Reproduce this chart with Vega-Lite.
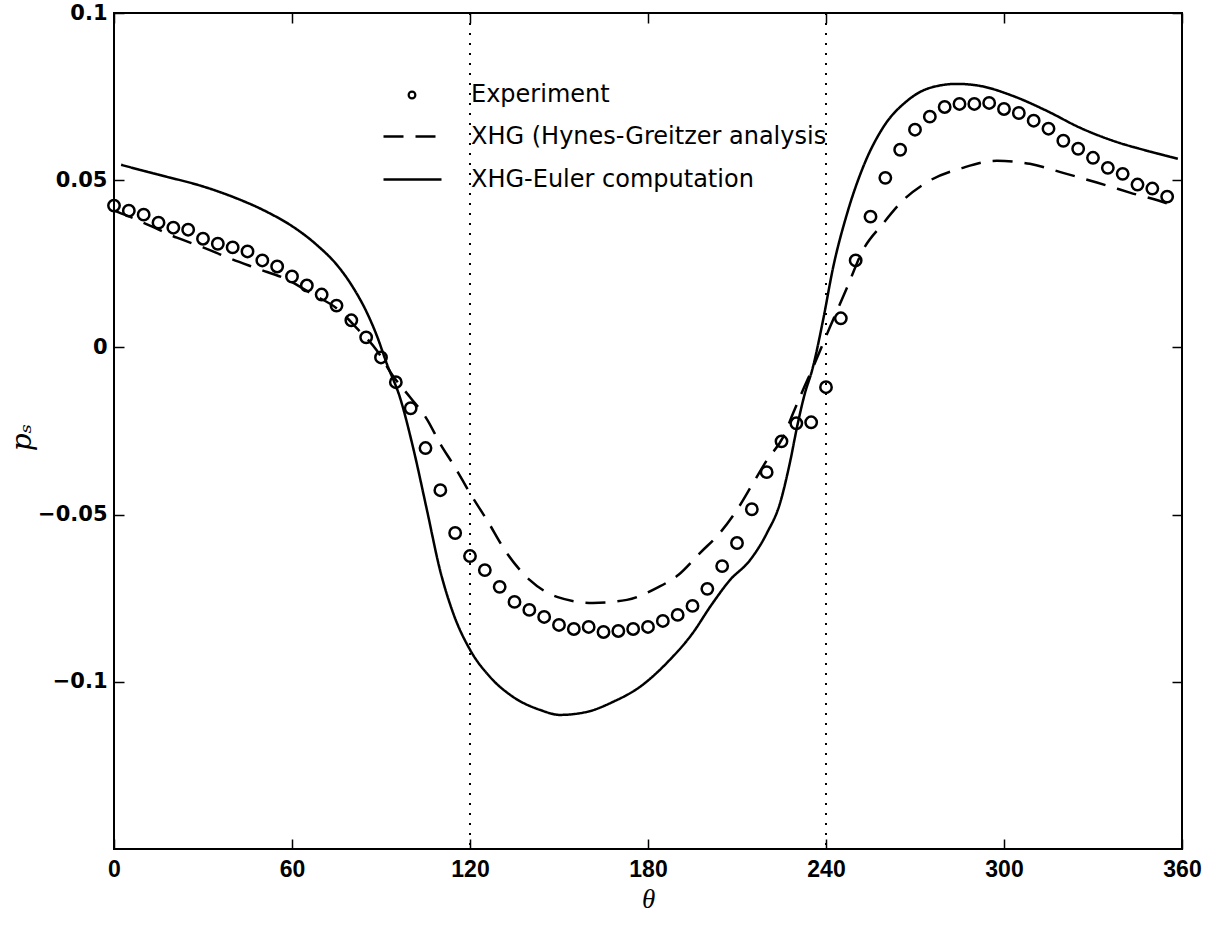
{
  "$schema": "https://vega.github.io/schema/vega-lite/v6.json",
  "width": 1068,
  "height": 836,
  "autosize": {"type": "none"},
  "padding": {"left": 114, "top": 13, "right": 29, "bottom": 78},
  "background": "white",
  "config": {
    "view": {"stroke": "black", "strokeWidth": 2},
    "axis": {
      "grid": false,
      "domain": false,
      "tickColor": "black",
      "tickWidth": 1.5,
      "tickSize": -10,
      "labelColor": "black",
      "titleColor": "black"
    },
    "legend": {
      "labelFont": "DejaVu Sans",
      "labelFontSize": 24,
      "labelColor": "black",
      "labelLimit": 0,
      "symbolStrokeColor": "black",
      "padding": 0
    }
  },
  "datasets": {
    "dividers": [{"theta": 120}, {"theta": 240}],
    "experiment": [
      {"series": "Experiment", "theta": 0, "ps": 0.0424},
      {"series": "Experiment", "theta": 5, "ps": 0.0409},
      {"series": "Experiment", "theta": 10, "ps": 0.0397},
      {"series": "Experiment", "theta": 15, "ps": 0.0373},
      {"series": "Experiment", "theta": 20, "ps": 0.0358},
      {"series": "Experiment", "theta": 25, "ps": 0.0352},
      {"series": "Experiment", "theta": 30, "ps": 0.0325},
      {"series": "Experiment", "theta": 35, "ps": 0.0310},
      {"series": "Experiment", "theta": 40, "ps": 0.0299},
      {"series": "Experiment", "theta": 45, "ps": 0.0287},
      {"series": "Experiment", "theta": 50, "ps": 0.0260},
      {"series": "Experiment", "theta": 55, "ps": 0.0242},
      {"series": "Experiment", "theta": 60, "ps": 0.0212},
      {"series": "Experiment", "theta": 65, "ps": 0.0185},
      {"series": "Experiment", "theta": 70, "ps": 0.0158},
      {"series": "Experiment", "theta": 75, "ps": 0.0125},
      {"series": "Experiment", "theta": 80, "ps": 0.0081},
      {"series": "Experiment", "theta": 85, "ps": 0.0030},
      {"series": "Experiment", "theta": 90, "ps": -0.0030},
      {"series": "Experiment", "theta": 95, "ps": -0.0104},
      {"series": "Experiment", "theta": 100, "ps": -0.0182},
      {"series": "Experiment", "theta": 105, "ps": -0.0301},
      {"series": "Experiment", "theta": 110, "ps": -0.0427},
      {"series": "Experiment", "theta": 115, "ps": -0.0555},
      {"series": "Experiment", "theta": 120, "ps": -0.0624},
      {"series": "Experiment", "theta": 125, "ps": -0.0666},
      {"series": "Experiment", "theta": 130, "ps": -0.0716},
      {"series": "Experiment", "theta": 135, "ps": -0.0761},
      {"series": "Experiment", "theta": 140, "ps": -0.0785},
      {"series": "Experiment", "theta": 145, "ps": -0.0806},
      {"series": "Experiment", "theta": 150, "ps": -0.0830},
      {"series": "Experiment", "theta": 155, "ps": -0.0842},
      {"series": "Experiment", "theta": 160, "ps": -0.0836},
      {"series": "Experiment", "theta": 165, "ps": -0.0851},
      {"series": "Experiment", "theta": 170, "ps": -0.0848},
      {"series": "Experiment", "theta": 175, "ps": -0.0842},
      {"series": "Experiment", "theta": 180, "ps": -0.0836},
      {"series": "Experiment", "theta": 185, "ps": -0.0818},
      {"series": "Experiment", "theta": 190, "ps": -0.0800},
      {"series": "Experiment", "theta": 195, "ps": -0.0773},
      {"series": "Experiment", "theta": 200, "ps": -0.0722},
      {"series": "Experiment", "theta": 205, "ps": -0.0654},
      {"series": "Experiment", "theta": 210, "ps": -0.0585},
      {"series": "Experiment", "theta": 215, "ps": -0.0484},
      {"series": "Experiment", "theta": 220, "ps": -0.0373},
      {"series": "Experiment", "theta": 225, "ps": -0.0281},
      {"series": "Experiment", "theta": 230, "ps": -0.0227},
      {"series": "Experiment", "theta": 235, "ps": -0.0224},
      {"series": "Experiment", "theta": 240, "ps": -0.0119},
      {"series": "Experiment", "theta": 245, "ps": 0.0087},
      {"series": "Experiment", "theta": 250, "ps": 0.0260},
      {"series": "Experiment", "theta": 255, "ps": 0.0391},
      {"series": "Experiment", "theta": 260, "ps": 0.0507},
      {"series": "Experiment", "theta": 265, "ps": 0.0591},
      {"series": "Experiment", "theta": 270, "ps": 0.0651},
      {"series": "Experiment", "theta": 275, "ps": 0.0690},
      {"series": "Experiment", "theta": 280, "ps": 0.0719},
      {"series": "Experiment", "theta": 285, "ps": 0.0728},
      {"series": "Experiment", "theta": 290, "ps": 0.0728},
      {"series": "Experiment", "theta": 295, "ps": 0.0731},
      {"series": "Experiment", "theta": 300, "ps": 0.0713},
      {"series": "Experiment", "theta": 305, "ps": 0.0701},
      {"series": "Experiment", "theta": 310, "ps": 0.0678},
      {"series": "Experiment", "theta": 315, "ps": 0.0654},
      {"series": "Experiment", "theta": 320, "ps": 0.0618},
      {"series": "Experiment", "theta": 325, "ps": 0.0594},
      {"series": "Experiment", "theta": 330, "ps": 0.0567},
      {"series": "Experiment", "theta": 335, "ps": 0.0537},
      {"series": "Experiment", "theta": 340, "ps": 0.0519},
      {"series": "Experiment", "theta": 345, "ps": 0.0487},
      {"series": "Experiment", "theta": 350, "ps": 0.0475},
      {"series": "Experiment", "theta": 355, "ps": 0.0451}
    ],
    "curves": [
      {"series": "XHG (Hynes-Greitzer analysis", "theta": 0, "ps": 0.0409},
      {"series": "XHG (Hynes-Greitzer analysis", "theta": 4.4, "ps": 0.0394},
      {"series": "XHG (Hynes-Greitzer analysis", "theta": 12.1, "ps": 0.0364},
      {"series": "XHG (Hynes-Greitzer analysis", "theta": 21.2, "ps": 0.0328},
      {"series": "XHG (Hynes-Greitzer analysis", "theta": 30, "ps": 0.0299},
      {"series": "XHG (Hynes-Greitzer analysis", "theta": 39.1, "ps": 0.0266},
      {"series": "XHG (Hynes-Greitzer analysis", "theta": 48.2, "ps": 0.0236},
      {"series": "XHG (Hynes-Greitzer analysis", "theta": 58.3, "ps": 0.0203},
      {"series": "XHG (Hynes-Greitzer analysis", "theta": 67.1, "ps": 0.0158},
      {"series": "XHG (Hynes-Greitzer analysis", "theta": 75.2, "ps": 0.0116},
      {"series": "XHG (Hynes-Greitzer analysis", "theta": 81.9, "ps": 0.0057},
      {"series": "XHG (Hynes-Greitzer analysis", "theta": 88.6, "ps": -0.0009},
      {"series": "XHG (Hynes-Greitzer analysis", "theta": 94, "ps": -0.0085},
      {"series": "XHG (Hynes-Greitzer analysis", "theta": 99.8, "ps": -0.0149},
      {"series": "XHG (Hynes-Greitzer analysis", "theta": 105.5, "ps": -0.0215},
      {"series": "XHG (Hynes-Greitzer analysis", "theta": 109.9, "ps": -0.0287},
      {"series": "XHG (Hynes-Greitzer analysis", "theta": 114.9, "ps": -0.0358},
      {"series": "XHG (Hynes-Greitzer analysis", "theta": 120, "ps": -0.0436},
      {"series": "XHG (Hynes-Greitzer analysis", "theta": 125.7, "ps": -0.0516},
      {"series": "XHG (Hynes-Greitzer analysis", "theta": 132.4, "ps": -0.0615},
      {"series": "XHG (Hynes-Greitzer analysis", "theta": 140.2, "ps": -0.0696},
      {"series": "XHG (Hynes-Greitzer analysis", "theta": 149.3, "ps": -0.0746},
      {"series": "XHG (Hynes-Greitzer analysis", "theta": 161.4, "ps": -0.0764},
      {"series": "XHG (Hynes-Greitzer analysis", "theta": 172.9, "ps": -0.0755},
      {"series": "XHG (Hynes-Greitzer analysis", "theta": 183, "ps": -0.0719},
      {"series": "XHG (Hynes-Greitzer analysis", "theta": 190.3, "ps": -0.0680},
      {"series": "XHG (Hynes-Greitzer analysis", "theta": 197.5, "ps": -0.0615},
      {"series": "XHG (Hynes-Greitzer analysis", "theta": 204.2, "ps": -0.0555},
      {"series": "XHG (Hynes-Greitzer analysis", "theta": 209.9, "ps": -0.0487},
      {"series": "XHG (Hynes-Greitzer analysis", "theta": 215.4, "ps": -0.0406},
      {"series": "XHG (Hynes-Greitzer analysis", "theta": 220.1, "ps": -0.0337},
      {"series": "XHG (Hynes-Greitzer analysis", "theta": 225.5, "ps": -0.0269},
      {"series": "XHG (Hynes-Greitzer analysis", "theta": 228.9, "ps": -0.0197},
      {"series": "XHG (Hynes-Greitzer analysis", "theta": 232.2, "ps": -0.0128},
      {"series": "XHG (Hynes-Greitzer analysis", "theta": 235.6, "ps": -0.0060},
      {"series": "XHG (Hynes-Greitzer analysis", "theta": 241.3, "ps": 0.0060},
      {"series": "XHG (Hynes-Greitzer analysis", "theta": 247.1, "ps": 0.0179},
      {"series": "XHG (Hynes-Greitzer analysis", "theta": 252.4, "ps": 0.0290},
      {"series": "XHG (Hynes-Greitzer analysis", "theta": 259.2, "ps": 0.0370},
      {"series": "XHG (Hynes-Greitzer analysis", "theta": 265.9, "ps": 0.0439},
      {"series": "XHG (Hynes-Greitzer analysis", "theta": 275, "ps": 0.0499},
      {"series": "XHG (Hynes-Greitzer analysis", "theta": 286.1, "ps": 0.0537},
      {"series": "XHG (Hynes-Greitzer analysis", "theta": 297.6, "ps": 0.0558},
      {"series": "XHG (Hynes-Greitzer analysis", "theta": 308.7, "ps": 0.0549},
      {"series": "XHG (Hynes-Greitzer analysis", "theta": 319.9, "ps": 0.0522},
      {"series": "XHG (Hynes-Greitzer analysis", "theta": 331.3, "ps": 0.0493},
      {"series": "XHG (Hynes-Greitzer analysis", "theta": 342.4, "ps": 0.0463},
      {"series": "XHG (Hynes-Greitzer analysis", "theta": 356.9, "ps": 0.0424},
      {"series": "XHG (Hynes-Greitzer analysis", "theta": 358.5, "ps": 0.0418},
      {"series": "XHG-Euler computation", "theta": 2.4, "ps": 0.0546},
      {"series": "XHG-Euler computation", "theta": 10, "ps": 0.0528},
      {"series": "XHG-Euler computation", "theta": 17.9, "ps": 0.0510},
      {"series": "XHG-Euler computation", "theta": 29, "ps": 0.0484},
      {"series": "XHG-Euler computation", "theta": 40.1, "ps": 0.0450},
      {"series": "XHG-Euler computation", "theta": 51.6, "ps": 0.0405},
      {"series": "XHG-Euler computation", "theta": 60.3, "ps": 0.0361},
      {"series": "XHG-Euler computation", "theta": 68.4, "ps": 0.0306},
      {"series": "XHG-Euler computation", "theta": 75.2, "ps": 0.0246},
      {"series": "XHG-Euler computation", "theta": 80.6, "ps": 0.0179},
      {"series": "XHG-Euler computation", "theta": 85.3, "ps": 0.0103},
      {"series": "XHG-Euler computation", "theta": 88.6, "ps": 0.0035},
      {"series": "XHG-Euler computation", "theta": 92, "ps": -0.0050},
      {"series": "XHG-Euler computation", "theta": 96.4, "ps": -0.0150},
      {"series": "XHG-Euler computation", "theta": 100.8, "ps": -0.0299},
      {"series": "XHG-Euler computation", "theta": 105.5, "ps": -0.0487},
      {"series": "XHG-Euler computation", "theta": 109.9, "ps": -0.0666},
      {"series": "XHG-Euler computation", "theta": 114.3, "ps": -0.0794},
      {"series": "XHG-Euler computation", "theta": 120, "ps": -0.0904},
      {"series": "XHG-Euler computation", "theta": 126.7, "ps": -0.0985},
      {"series": "XHG-Euler computation", "theta": 134.5, "ps": -0.1045},
      {"series": "XHG-Euler computation", "theta": 143.6, "ps": -0.1084},
      {"series": "XHG-Euler computation", "theta": 150.3, "ps": -0.1099},
      {"series": "XHG-Euler computation", "theta": 159.4, "ps": -0.1090},
      {"series": "XHG-Euler computation", "theta": 168.2, "ps": -0.1060},
      {"series": "XHG-Euler computation", "theta": 177.3, "ps": -0.1015},
      {"series": "XHG-Euler computation", "theta": 186.4, "ps": -0.0943},
      {"series": "XHG-Euler computation", "theta": 195.1, "ps": -0.0854},
      {"series": "XHG-Euler computation", "theta": 201, "ps": -0.0775},
      {"series": "XHG-Euler computation", "theta": 207.6, "ps": -0.0696},
      {"series": "XHG-Euler computation", "theta": 214.4, "ps": -0.0636},
      {"series": "XHG-Euler computation", "theta": 220.1, "ps": -0.0555},
      {"series": "XHG-Euler computation", "theta": 224.5, "ps": -0.0466},
      {"series": "XHG-Euler computation", "theta": 227.8, "ps": -0.0346},
      {"series": "XHG-Euler computation", "theta": 230.5, "ps": -0.0227},
      {"series": "XHG-Euler computation", "theta": 232.9, "ps": -0.0137},
      {"series": "XHG-Euler computation", "theta": 235.3, "ps": -0.0069},
      {"series": "XHG-Euler computation", "theta": 239, "ps": 0.0081},
      {"series": "XHG-Euler computation", "theta": 242.4, "ps": 0.0239},
      {"series": "XHG-Euler computation", "theta": 247.1, "ps": 0.0400},
      {"series": "XHG-Euler computation", "theta": 252.4, "ps": 0.0537},
      {"series": "XHG-Euler computation", "theta": 259.2, "ps": 0.0657},
      {"series": "XHG-Euler computation", "theta": 267.3, "ps": 0.0737},
      {"series": "XHG-Euler computation", "theta": 275, "ps": 0.0776},
      {"series": "XHG-Euler computation", "theta": 284.1, "ps": 0.0788},
      {"series": "XHG-Euler computation", "theta": 291.9, "ps": 0.0782},
      {"series": "XHG-Euler computation", "theta": 303, "ps": 0.0752},
      {"series": "XHG-Euler computation", "theta": 314.5, "ps": 0.0707},
      {"series": "XHG-Euler computation", "theta": 325.6, "ps": 0.0657},
      {"series": "XHG-Euler computation", "theta": 336.7, "ps": 0.0618},
      {"series": "XHG-Euler computation", "theta": 348.2, "ps": 0.0588},
      {"series": "XHG-Euler computation", "theta": 358.6, "ps": 0.0564}
    ]
  },
  "layer": [
    {
      "data": {"name": "dividers"},
      "mark": {"type": "rule", "color": "black", "strokeWidth": 2, "strokeDash": [2, 8]},
      "encoding": {
        "x": {"field": "theta", "type": "quantitative", "scale": {"domain": [0, 360], "nice": false, "zero": false}, "axis": null}
      }
    },
    {
      "data": {"name": "curves"},
      "mark": {"type": "line", "color": "black", "strokeWidth": 2.5, "interpolate": "monotone"},
      "encoding": {
        "x": {
          "field": "theta", "type": "quantitative",
          "scale": {"domain": [0, 360], "nice": false, "zero": false},
          "axis": {
            "orient": "bottom",
            "values": [0, 60, 120, 180, 240, 300, 360],
            "format": "d",
            "labelFont": "Liberation Sans",
            "labelFontWeight": "bold",
            "labelFontSize": 23,
            "labelPadding": 19,
            "labelFlush": false,
            "title": "θ",
            "titleFont": "Liberation Serif",
            "titleFontStyle": "italic",
            "titleFontWeight": "normal",
            "titleFontSize": 27,
            "titleBaseline": "middle",
            "titleY": 50
          }
        },
        "y": {
          "field": "ps", "type": "quantitative",
          "scale": {"domain": [-0.15, 0.1], "nice": false, "zero": false},
          "axis": {
            "orient": "left",
            "values": [-0.1, -0.05, 0, 0.05, 0.1],
            "format": ".2~f",
            "labelFont": "DejaVu Sans",
            "labelFontWeight": "bold",
            "labelFontSize": 21,
            "labelPadding": 17,
            "labelFlush": false,
            "title": "pₛ",
            "titleFont": "DejaVu Serif",
            "titleFontStyle": "italic",
            "titleFontWeight": "normal",
            "titleFontSize": 28,
            "titleAngle": -90,
            "titleBaseline": "middle",
            "titleAlign": "center",
            "titleX": -92,
            "titleY": 424
          }
        },
        "strokeDash": {
          "field": "series", "type": "nominal",
          "scale": {
            "domain": ["XHG (Hynes-Greitzer analysis", "XHG-Euler computation"],
            "range": [[20, 12], [1, 0]]
          },
          "legend": {
            "orient": "none",
            "legendX": 268,
            "legendY": 93,
            "title": null,
            "symbolType": "stroke",
            "symbolSize": 3364,
            "symbolStrokeWidth": 2.5,
            "symbolStrokeColor": "black",
            "labelOffset": 28,
            "rowPadding": -20,
            "encode": {
              "symbols": {
                "update": {
                  "strokeDash": [
                    {"test": "datum.label === 'XHG (Hynes-Greitzer analysis'", "value": [17, 23]},
                    {"value": [1, 0]}
                  ]
                }
              }
            }
          }
        }
      }
    },
    {
      "data": {"name": "experiment"},
      "mark": {"type": "point", "filled": false, "color": "black", "strokeWidth": 2.5, "size": 130, "opacity": 1},
      "encoding": {
        "x": {
          "field": "theta", "type": "quantitative",
          "scale": {"domain": [0, 360], "nice": false, "zero": false},
          "axis": {"orient": "top", "values": [0, 60, 120, 180, 240, 300, 360], "labels": false, "title": null}
        },
        "y": {
          "field": "ps", "type": "quantitative",
          "scale": {"domain": [-0.15, 0.1], "nice": false, "zero": false},
          "axis": {"orient": "right", "values": [-0.1, -0.05, 0, 0.05, 0.1], "labels": false, "title": null}
        },
        "shape": {
          "field": "series", "type": "nominal",
          "scale": {"domain": ["Experiment"], "range": ["circle"]},
          "legend": {
            "orient": "none",
            "legendX": 286,
            "legendY": 70,
            "title": null,
            "symbolSize": 45,
            "symbolStrokeWidth": 2.2,
            "symbolStrokeColor": "black",
            "symbolFillColor": "transparent",
            "labelOffset": 47
          }
        }
      }
    }
  ],
  "resolve": {"axis": {"x": "independent", "y": "independent"}}
}
